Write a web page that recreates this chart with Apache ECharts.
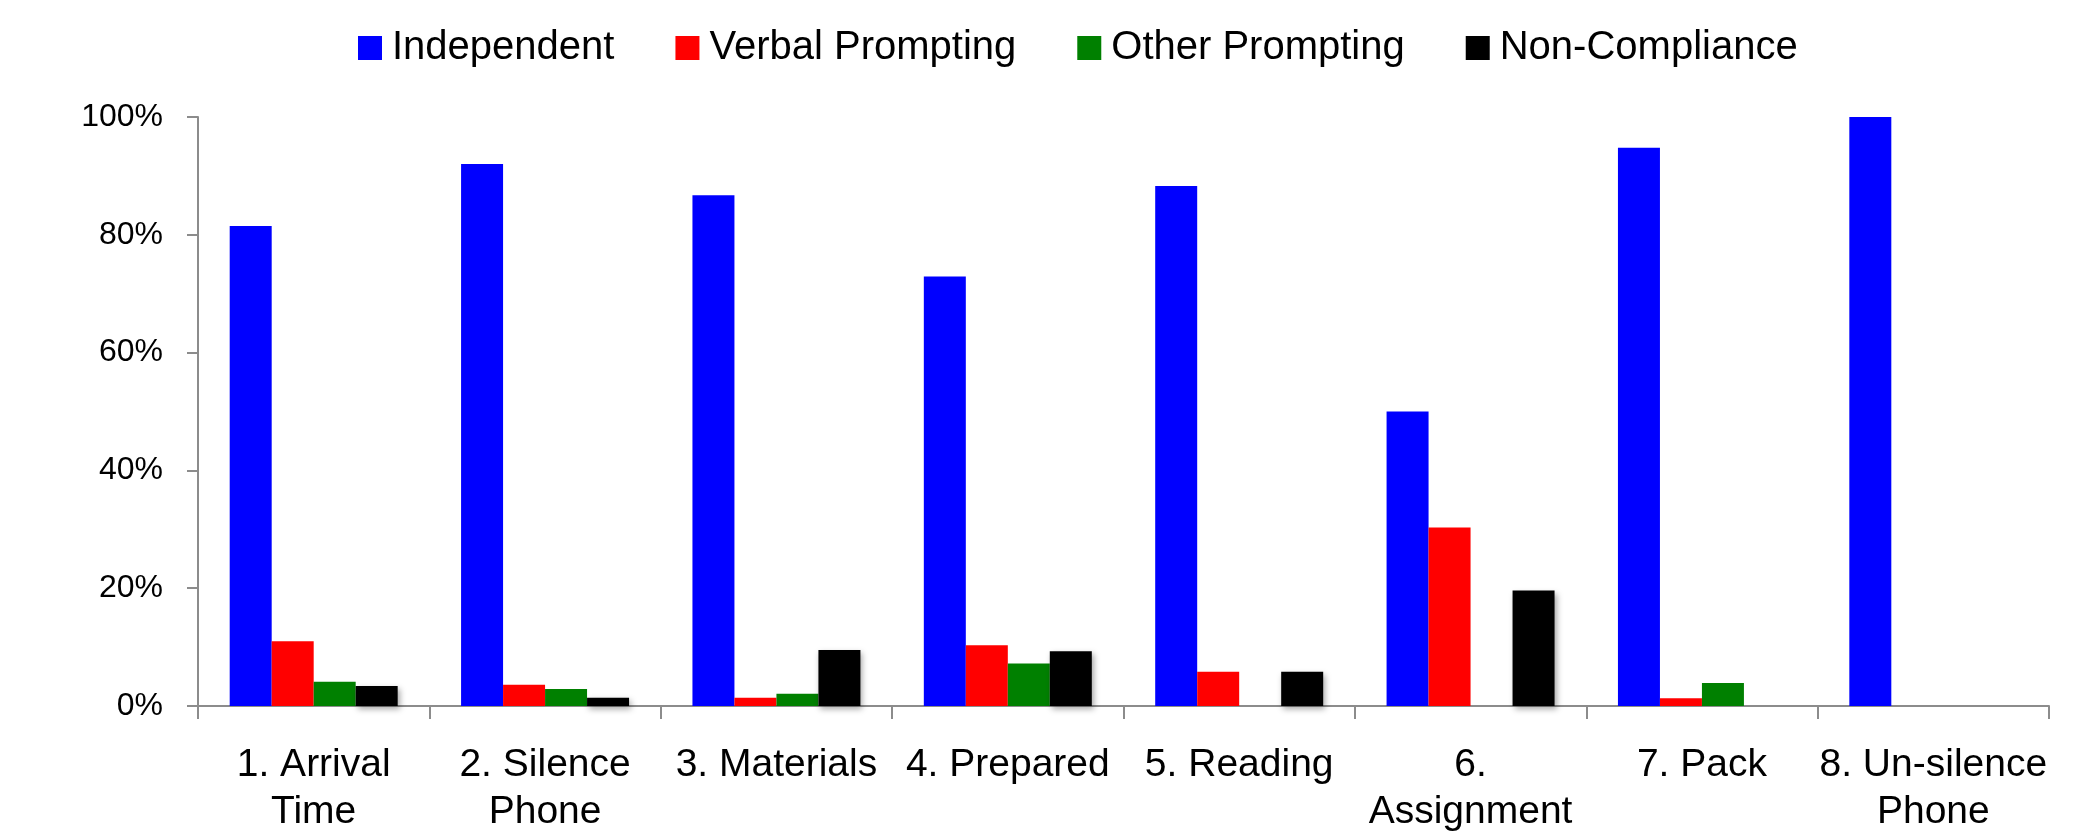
<!DOCTYPE html>
<html>
<head>
<meta charset="utf-8">
<title>Task Completion by Prompt Level</title>
<script src="https://cdn.jsdelivr.net/npm/echarts@6/dist/echarts.min.js"></script>
<style>
  html, body { margin: 0; padding: 0; background: #ffffff; }
  #chart { width: 2075px; height: 838px; }
</style>
</head>
<body>
<div id="chart"></div>
<script>
// Routine steps (x-axis categories)
const categories = [
  '1. Arrival\nTime',
  '2. Silence\nPhone',
  '3. Materials',
  '4. Prepared',
  '5. Reading',
  '6.\nAssignment',
  '7. Pack',
  '8. Un-silence\nPhone'
];

// Percentage of trials at each prompt level
const independent    = [81.5, 92.0, 86.7, 72.9, 88.3, 50.0, 94.8, 100];
const verbalPrompt   = [11.0, 3.6, 1.4, 10.3, 5.8, 30.3, 1.3, 0];
const otherPrompt    = [4.1, 2.9, 2.1, 7.2, 0, 0, 3.9, 0];
const nonCompliance  = [3.4, 1.4, 9.5, 9.3, 5.8, 19.6, 0, 0];

const seriesNames = ['Independent', 'Verbal Prompting', 'Other Prompting', 'Non-Compliance'];
const yTicks = { min: 0, max: 100, step: 20 };

const FONT = 'Liberation Sans';
const axisGray = '#8c8c8c';

const chart = echarts.init(document.getElementById('chart'), null, { renderer: 'canvas' });

function barSeries(name, data, color, extra) {
  return Object.assign({
    name: name,
    type: 'bar',
    data: data,
    barGap: '0%',
    barCategoryGap: '27.4%',
    itemStyle: { color: color },
    emphasis: { disabled: true }
  }, extra || {});
}

chart.setOption({
  animation: false,
  backgroundColor: '#ffffff',
  textStyle: { fontFamily: FONT, color: '#000' },
  legend: {
    data: seriesNames,
    left: 358,
    top: 27,
    padding: 0,
    icon: 'rect',
    itemWidth: 24,
    itemHeight: 24,
    itemGap: 61,
    textStyle: {
      fontFamily: FONT,
      fontSize: 40,
      color: '#000',
      lineHeight: 42,
      padding: [0, 0, 0, 5]
    }
  },
  grid: {
    left: 198,
    right: 26,
    top: 117,
    bottom: 132
  },
  xAxis: {
    type: 'category',
    data: categories,
    boundaryGap: true,
    axisLine: { show: true, lineStyle: { color: axisGray, width: 2 } },
    axisTick: { show: true, length: 13, lineStyle: { color: axisGray, width: 2 } },
    axisLabel: {
      interval: 0,
      margin: 36,
      fontFamily: FONT,
      fontSize: 39,
      lineHeight: 47,
      color: '#000',
      align: 'center'
    },
    splitLine: { show: false }
  },
  yAxis: {
    type: 'value',
    min: yTicks.min,
    max: yTicks.max,
    interval: yTicks.step,
    axisLine: { show: true, lineStyle: { color: axisGray, width: 2 } },
    axisTick: { show: true, length: 11, lineStyle: { color: axisGray, width: 2 } },
    axisLabel: {
      formatter: '{value}%',
      margin: 35,
      fontFamily: FONT,
      fontSize: 32,
      color: '#000'
    },
    splitLine: { show: false }
  },
  series: [
    barSeries(seriesNames[0], independent, '#0000ff'),
    barSeries(seriesNames[1], verbalPrompt, '#ff0000'),
    barSeries(seriesNames[2], otherPrompt, '#008000'),
    barSeries(seriesNames[3], nonCompliance, '#000000', {
      itemStyle: {
        color: '#000000',
        shadowColor: 'rgba(0,0,0,0.35)',
        shadowBlur: 6,
        shadowOffsetX: 2,
        shadowOffsetY: 3
      }
    })
  ]
});
</script>
</body>
</html>
